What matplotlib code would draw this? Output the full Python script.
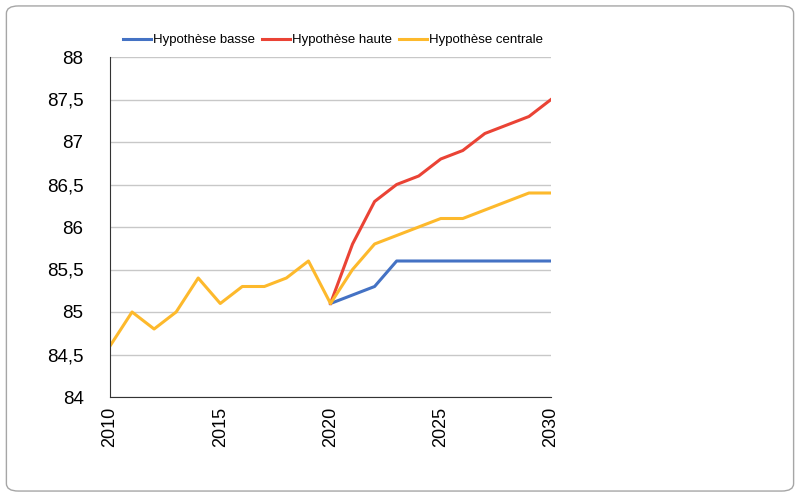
import matplotlib
matplotlib.use("Agg")
import matplotlib.pyplot as plt
from matplotlib.patches import FancyBboxPatch

plt.rcParams['font.family'] = ['Liberation Sans', 'DejaVu Sans']

years = list(range(2010, 2031))
years_proj = list(range(2020, 2031))

centrale = [84.6, 85.0, 84.8, 85.0, 85.4, 85.1, 85.3, 85.3, 85.4, 85.6, 85.1,
            85.5, 85.8, 85.9, 86.0, 86.1, 86.1, 86.2, 86.3, 86.4, 86.4]
haute = [85.1, 85.8, 86.3, 86.5, 86.6, 86.8, 86.9, 87.1, 87.2, 87.3, 87.5]
basse = [85.1, 85.2, 85.3, 85.6, 85.6, 85.6, 85.6, 85.6, 85.6, 85.6, 85.6]

yticks = [84, 84.5, 85, 85.5, 86, 86.5, 87, 87.5, 88]
ylabels = ["84", "84,5", "85", "85,5", "86", "86,5", "87", "87,5", "88"]
xticks = [2010, 2015, 2020, 2025, 2030]

fig = plt.figure(figsize=(8, 4.96), dpi=100)
# rounded frame
frame = FancyBboxPatch((0.008, 0.01), 0.984, 0.978, boxstyle="round,pad=0,rounding_size=0.015",
                       transform=fig.transFigure, facecolor="none", edgecolor="#a6a6a6",
                       linewidth=1.0)
fig.patches.append(frame)

ax = fig.add_axes([110 / 800, 1 - 397 / 496, 441 / 800, 340 / 496])
ax.set_facecolor("none")

ax.plot(years_proj, basse, color="#4472C4", lw=2.2, label="Hypothèse basse")
ax.plot(years_proj, haute, color="#EA4335", lw=2.2, label="Hypothèse haute")
ax.plot(years, centrale, color="#FDB92C", lw=2.2, label="Hypothèse centrale")

ax.set_xlim(2010, 2030)
ax.set_ylim(84, 88)
ax.set_yticks(yticks)
ax.set_yticklabels(ylabels, fontsize=13.5)
ax.set_xticks(xticks)
ax.set_xticklabels([str(x) for x in xticks], rotation=90, fontsize=13)
ax.tick_params(axis='x', length=0, pad=7)
ax.tick_params(axis='y', length=0, pad=19)

ax.grid(axis='y', color="#c8c8c8", lw=1)
ax.set_axisbelow(True)
for s in ["top", "right"]:
    ax.spines[s].set_visible(False)
ax.spines["left"].set_color("#333333")
ax.spines["bottom"].set_color("#333333")

ax.legend(loc="center", bbox_to_anchor=(0.5 + 2.5 / 441, 1 + 17 / 340), ncol=3, frameon=False,
          fontsize=9.5, handlelength=2.1, handletextpad=0.15, columnspacing=0.55)

plt.savefig("out.png", dpi=100)
